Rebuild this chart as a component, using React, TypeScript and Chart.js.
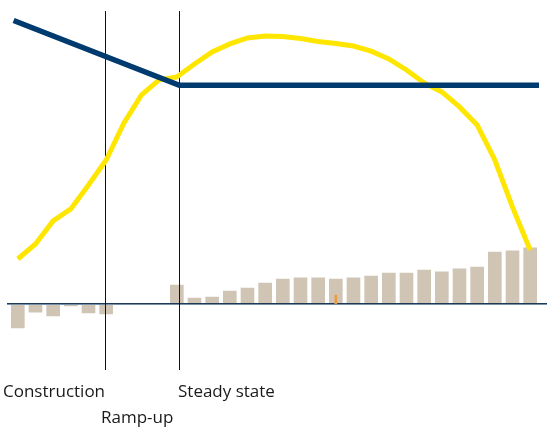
import React, { useEffect, useRef } from "react";
import { Chart, registerables } from "chart.js";

Chart.register(...registerables);

// Period index (0..29)
const periods = [0, 1, 2, 3, 4, 5, 6, 7, 8, 9, 10, 11, 12, 13, 14, 15, 16, 17, 18, 19, 20, 21, 22, 23, 24, 25, 26, 27, 28, 29];

// Beige bars (cash flow)
const cashFlow = [-8.1, -2.8, -4.1, -0.7, -3.1, -3.4, null, null, null, 6.2, 1.9, 2.2, 4.2, 5.2, 6.9, 8.2, 8.6, 8.6, 8.2, 8.6, 9.2, 10.2, 10.2, 11.2, 10.6, 11.6, 12.2, 17.2, 17.6, 18.6];

// Yellow curve
const production = [14.9, 19.9, 27.6, 31.6, 39.6, 47.9, 60.2, 69.6, 74.6, 75.6, 79.9, 83.9, 86.6, 88.6, 89.2, 89.1, 88.4, 87.4, 86.7, 85.9, 84.2, 81.6, 77.9, 73.6, 70.6, 65.6, 59.6, 47.9, 32.2, 17.9];

// Navy line
const costX = [-0.24, 9.14, 29.5];
const costY = [94.4, 72.8, 72.8];

// Small orange marker
const markerX = [18];
const markerY = [2.9];

// Phase boundaries (x in period units) and labels
const phaseBoundaries = [4.95, 9.14];
const phaseLabels = ["Construction", "Ramp-up", "Steady state"];

const refPlugin = {
  id: "refLines",
  afterDatasetDraw(chart: any, args: any) {
    if (args.index !== 0) return;
    const ctx = chart.ctx;
    const xs = chart.scales.x;
    const ys = chart.scales.y;
    ctx.save();
    // zero line
    const y0 = Math.floor(ys.getPixelForValue(0));
    ctx.fillStyle = "#1f3a57";
    ctx.fillRect(7, y0, 540, 1);
    ctx.fillStyle = "#7891ab";
    ctx.fillRect(7, y0 + 1, 540, 1);
    // phase boundaries
    ctx.strokeStyle = "#111111";
    ctx.lineWidth = 1;
    phaseBoundaries.forEach((b) => {
      const px = Math.floor(xs.getPixelForValue(b)) + 0.5;
      ctx.beginPath();
      ctx.moveTo(px, 11);
      ctx.lineTo(px, 370);
      ctx.stroke();
    });
    ctx.restore();
  },
  afterDraw(chart: any) {
    const ctx = chart.ctx;
    ctx.save();
    ctx.fillStyle = "#1a1a1a";
    ctx.font = '17px "Open Sans"';
    ctx.textBaseline = "alphabetic";
    ctx.textAlign = "left";
    ctx.fillText(phaseLabels[0], 3, 397);
    ctx.fillText(phaseLabels[1], 101, 423);
    ctx.fillText(phaseLabels[2], 178, 397);
    ctx.restore();
  },
};

export default function App() {
  const ref = useRef<HTMLCanvasElement>(null);
  useEffect(() => {
    if (!ref.current) return;
    const chart = new Chart(ref.current, {
      type: "bar",
      data: {
        datasets: [
          {
            type: "bar",
            data: periods.map((p, i) => ({ x: p, y: cashFlow[i] })),
            backgroundColor: "#d0c5b4",
            barThickness: 13,
            grouped: false,
            order: 10,
          } as any,
          {
            type: "bar",
            data: markerX.map((x, i) => ({ x, y: markerY[i] })),
            backgroundColor: "#ec9a40",
            barThickness: 2,
            grouped: false,
            order: 9,
          } as any,
          {
            type: "line",
            data: periods.map((p, i) => ({ x: p, y: production[i] })),
            borderColor: "#ffe600",
            borderWidth: 5,
            pointRadius: 0,
            tension: 0,
            fill: false,
            order: 2,
          } as any,
          {
            type: "line",
            data: costX.map((x, i) => ({ x, y: costY[i] })),
            borderColor: "#003b6f",
            borderWidth: 5.5,
            pointRadius: 0,
            tension: 0,
            fill: false,
            order: 1,
          } as any,
        ],
      },
      options: {
        animation: false,
        responsive: false,
        events: [],
        layout: { padding: { left: 9, right: 8, top: 3.7, bottom: 63.3 } },
        plugins: { legend: { display: false }, tooltip: { enabled: false }, title: { display: false } },
        scales: {
          x: { type: "linear", min: -0.5, max: 29.5, offset: false, display: false, grid: { offset: false } },
          y: { type: "linear", min: -20, max: 100, display: false },
        },
      },
      plugins: [refPlugin],
    });
    return () => chart.destroy();
  }, []);
  return (
    <div style={{ position: "absolute", left: 0, top: 0, width: 547, height: 427, background: "#fff" }}>
      <canvas ref={ref} width={547} height={427} style={{ display: "block" }} />
    </div>
  );
}
